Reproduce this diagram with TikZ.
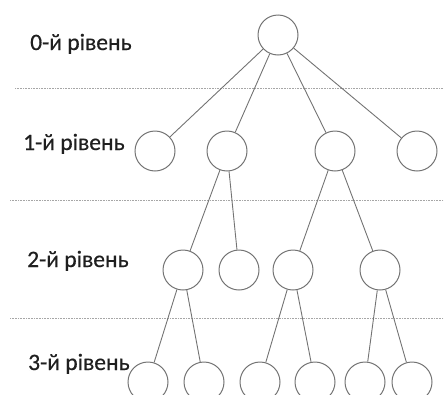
\documentclass[tikz,border=0pt]{standalone}
\usepackage{fontspec}
\setmainfont{Carlito}
\newfontfamily\captionfont[FakeBold=0.6]{Carlito}
\begin{document}
\begin{tikzpicture}[x=1pt,y=-1pt,
  vertex/.style={circle,draw=black!55,line width=1pt,minimum size=40pt,inner sep=0pt},
  edge/.style={draw=black!55,line width=0.9pt},
  levelline/.style={draw=black!35,line width=0.8pt,dash pattern=on 1pt off 0.6pt},
  levellabel/.style={anchor=base west,font=\captionfont\fontsize{23.5}{26}\selectfont,text=black!88,inner sep=0pt}]
\clip (0,0) rectangle (444,394);
\useasboundingbox (0,0) rectangle (444,394);
% level separators
\draw[levelline] (15,88) -- (444,88);
\draw[levelline] (10,200) -- (444,200);
\draw[levelline] (10,318) -- (444,318);
% level captions
\node[levellabel] (t0) at (30,50) {0-й рівень};
\node[levellabel] (t1) at (23,150) {1-й рівень};
\node[levellabel] (t2) at (27,267) {2-й рівень};
\node[levellabel] (t3) at (28,370) {3-й рівень};
% level 0
\node[vertex] (r) at (278,35) {};
% level 1
\node[vertex] (a1) at (155,151) {};
\node[vertex] (a2) at (227,151) {};
\node[vertex] (a3) at (335,151) {};
\node[vertex] (a4) at (417,151) {};
% level 2
\node[vertex] (b1) at (183,270) {};
\node[vertex] (b2) at (239,270) {};
\node[vertex] (b3) at (293,270) {};
\node[vertex] (b4) at (380,270) {};
% level 3
\node[vertex] (c1) at (148,382) {};
\node[vertex] (c2) at (204,382) {};
\node[vertex] (c3) at (260,382) {};
\node[vertex] (c4) at (315,382) {};
\node[vertex] (c5) at (365,382) {};
\node[vertex] (c6) at (412,382) {};
% connectors
\foreach \u/\v in {r/a1,r/a2,r/a3,r/a4,a2/b1,a2/b2,a3/b3,a3/b4,b1/c1,b1/c2,b3/c3,b3/c4,b4/c5,b4/c6}
  \draw[edge] (\u) -- (\v);
\end{tikzpicture}
\end{document}
